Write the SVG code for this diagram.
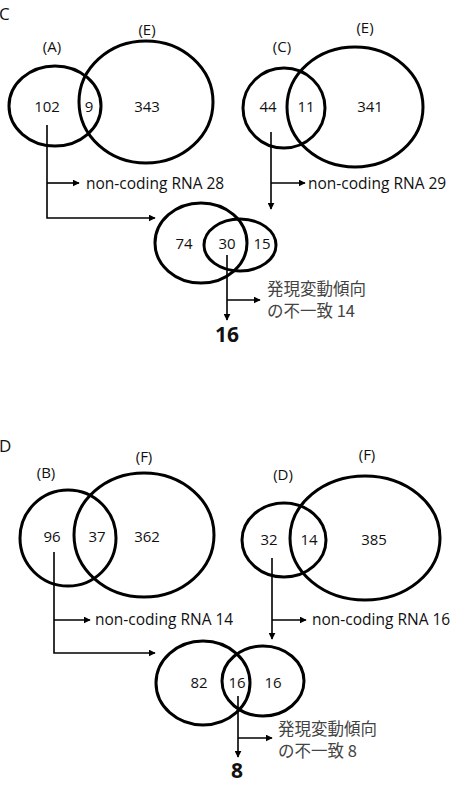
<svg xmlns="http://www.w3.org/2000/svg" width="461" height="803" viewBox="0 0 461 803">
<defs>
<marker id="ah" viewBox="0 0 10 10" refX="9" refY="5" markerWidth="7" markerHeight="7" markerUnits="userSpaceOnUse" orient="auto">
<path d="M0,0 L10,5 L0,10 z" fill="#000"/>
</marker>
</defs>
<style>
.c{fill:none;stroke:#000;stroke-width:3}
.a{fill:none;stroke:#000;stroke-width:1.6;marker-end:url(#ah)}
.t{font-family:"Open Sans","Liberation Sans",sans-serif;font-size:15px;fill:#111;text-anchor:middle}
.n{font-family:"Open Sans","Liberation Sans",sans-serif;font-size:15.5px;fill:#111}
.j{font-family:"Noto Sans CJK JP","Noto Sans",sans-serif;font-size:16.5px;fill:#444}
.b{font-family:"Open Sans","Liberation Sans",sans-serif;font-size:21px;font-weight:bold;fill:#111;text-anchor:middle}
.p{font-family:"Open Sans","Liberation Sans",sans-serif;font-size:17px;fill:#111}
</style>
<rect width="461" height="803" fill="#fff"/>
<text class="p" x="-1" y="20">C</text>
<text class="p" x="-1" y="452">D</text>

<g id="vennAE">
<ellipse class="c" cx="55" cy="106" rx="46" ry="40"/>
<ellipse class="c" cx="146" cy="102" rx="67" ry="61"/>
<text class="t" x="52" y="52">(A)</text>
<text class="t" x="147" y="35">(E)</text>
<text class="t" x="47" y="112">102</text>
<text class="t" x="89" y="112">9</text>
<text class="t" x="147" y="112">343</text>
</g>
<g id="vennCE">
<ellipse class="c" cx="284" cy="108" rx="41" ry="40"/>
<ellipse class="c" cx="355" cy="107" rx="68" ry="60"/>
<text class="t" x="282" y="52">(C)</text>
<text class="t" x="365" y="33">(E)</text>
<text class="t" x="268" y="112">44</text>
<text class="t" x="306" y="112">11</text>
<text class="t" x="370" y="112">341</text>
</g>
<g id="vennC">
<ellipse class="c" cx="201" cy="243" rx="46" ry="40"/>
<ellipse class="c" cx="240" cy="245" rx="36" ry="26"/>
<text class="t" x="184" y="249">74</text>
<text class="t" x="227" y="249">30</text>
<text class="t" x="262" y="249">15</text>
</g>
<g id="labelsC">
<text class="n" x="86" y="189">non-coding RNA 28</text>
<text class="n" x="308" y="189">non-coding RNA 29</text>
<text class="j" x="267" y="295">発現変動傾向</text>
<text class="j" x="267" y="317">の不一致 14</text>
<text class="b" x="227" y="342">16</text>
</g>

<g id="vennBF">
<ellipse class="c" cx="68" cy="538" rx="48" ry="48"/>
<ellipse class="c" cx="144" cy="535" rx="70" ry="62"/>
<text class="t" x="46" y="478">(B)</text>
<text class="t" x="144" y="462">(F)</text>
<text class="t" x="52" y="542">96</text>
<text class="t" x="97" y="542">37</text>
<text class="t" x="147" y="542">362</text>
</g>
<g id="vennDF">
<ellipse class="c" cx="284" cy="540" rx="42" ry="37"/>
<ellipse class="c" cx="365" cy="538" rx="75" ry="62"/>
<text class="t" x="283" y="480">(D)</text>
<text class="t" x="367" y="460">(F)</text>
<text class="t" x="269" y="545">32</text>
<text class="t" x="309" y="545">14</text>
<text class="t" x="374" y="545">385</text>
</g>
<g id="vennD">
<ellipse class="c" cx="203" cy="683" rx="47" ry="42"/>
<ellipse class="c" cx="263" cy="681" rx="41" ry="35"/>
<text class="t" x="199" y="688">82</text>
<text class="t" x="237" y="688">16</text>
<text class="t" x="273" y="688">16</text>
</g>
<g id="labelsD">
<text class="n" x="95" y="625">non-coding RNA 14</text>
<text class="n" x="312" y="625">non-coding RNA 16</text>
<text class="j" x="278" y="735">発現変動傾向</text>
<text class="j" x="278" y="757">の不一致 8</text>
<text class="b" x="237" y="778">8</text>
</g>

<g id="connectors">
<path class="a" d="M47,125 V218 H155"/>
<path class="a" d="M47,183 H79"/>
<path class="a" d="M271,132 V209"/>
<path class="a" d="M271,183 H305"/>
<path class="a" d="M227,255 V320"/>
<path class="a" d="M227,300 H260"/>

<path class="a" d="M54,552 V653 H155"/>
<path class="a" d="M54,620 H90"/>
<path class="a" d="M272,558 V639"/>
<path class="a" d="M272,620 H306"/>
<path class="a" d="M238,696 V757"/>
<path class="a" d="M238,738 H272"/>
</g>
</svg>
